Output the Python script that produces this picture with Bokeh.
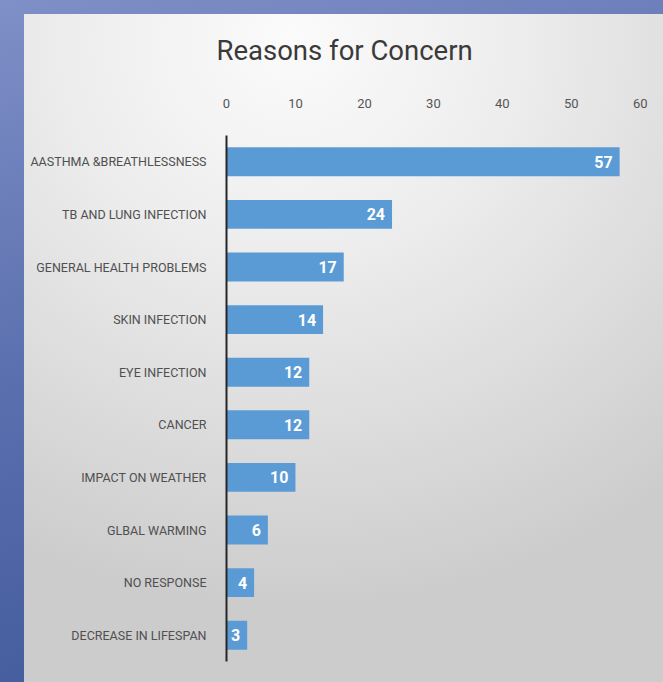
from bokeh.plotting import figure
from bokeh.models import ColumnDataSource, FactorRange, Range1d, GlobalInlineStyleSheet, FixedTicker
from bokeh.embed import file_html
from bokeh.resources import INLINE
from bokeh.core.properties import value

categories = ["AASTHMA &BREATHLESSNESS", "TB AND LUNG INFECTION", "GENERAL HEALTH PROBLEMS",
              "SKIN INFECTION", "EYE INFECTION", "CANCER", "IMPACT ON WEATHER",
              "GLBAL WARMING", "NO RESPONSE", "DECREASE IN LIFESPAN"]
counts = [57, 24, 17, 14, 12, 12, 10, 6, 4, 3]
ticks = [0, 10, 20, 30, 40, 50, 60]

src = ColumnDataSource(dict(cat=categories, val=counts, lab=[str(v) for v in counts]))

page_css = GlobalInlineStyleSheet(css="""
html { height: 100%;
  background:
    radial-gradient(ellipse 95% 85% at 42% 4%, #fbfbfb 0%, #eeeeee 35%, #dcdcdc 70%, #cccccc 100%) 24px 14px / calc(100% - 24px) calc(100% - 14px) no-repeat,
    linear-gradient(165deg, #7f8fc7 0%, #5a6fae 45%, #3b5396 100%) !important; }
body { margin: 0 !important; background: transparent !important; }
""")

FONT = "Roboto"

p = figure(width=655, height=674, output_backend="svg", toolbar_location=None,
           y_range=FactorRange(*reversed(categories), range_padding=0),
           x_range=Range1d(0, 62.2), x_axis_location="above",
           min_border_left=226, min_border_right=0, min_border_bottom=13, min_border_top=135,
           stylesheets=[page_css])

p.border_fill_alpha = 0
p.background_fill_alpha = 0
p.outline_line_color = None

p.title.text = "Reasons for Concern"
p.title.text_font = FONT
p.title.text_font_size = "27.5px"
p.title.text_font_style = "normal"
p.title.text_color = "#3a3a3a"
p.title.align = "left"
p.title.offset = -10
p.title.standoff = 58

p.hbar(y="cat", right="val", left=0, height=0.55, source=src,
       fill_color="#5b9bd5", line_color=None)
p.text(x="val", y="cat", text="lab", source=src, text_align="right", text_baseline="middle",
       x_offset=-7, text_color="white", text_font=value(FONT),
       text_font_size="16px", text_font_style="bold")

xa = p.xaxis[0]
xa.ticker = FixedTicker(ticks=ticks)
xa.axis_line_color = None
xa.major_tick_line_color = None
xa.minor_tick_line_color = None
xa.major_label_standoff = 22
xa.major_label_text_font = FONT
xa.major_label_text_font_size = "13px"
xa.major_label_text_color = "#555555"

ya = p.yaxis[0]
ya.axis_line_color = "#262626"
ya.axis_line_width = 2
ya.major_tick_line_color = None
ya.minor_tick_line_color = None
ya.major_label_standoff = 14
ya.major_label_text_font = FONT
ya.major_label_text_font_size = "12.5px"
ya.major_label_text_color = "#505050"

p.xgrid.grid_line_color = None
p.ygrid.grid_line_color = None

open("out.html", "w").write(file_html(p, INLINE))
